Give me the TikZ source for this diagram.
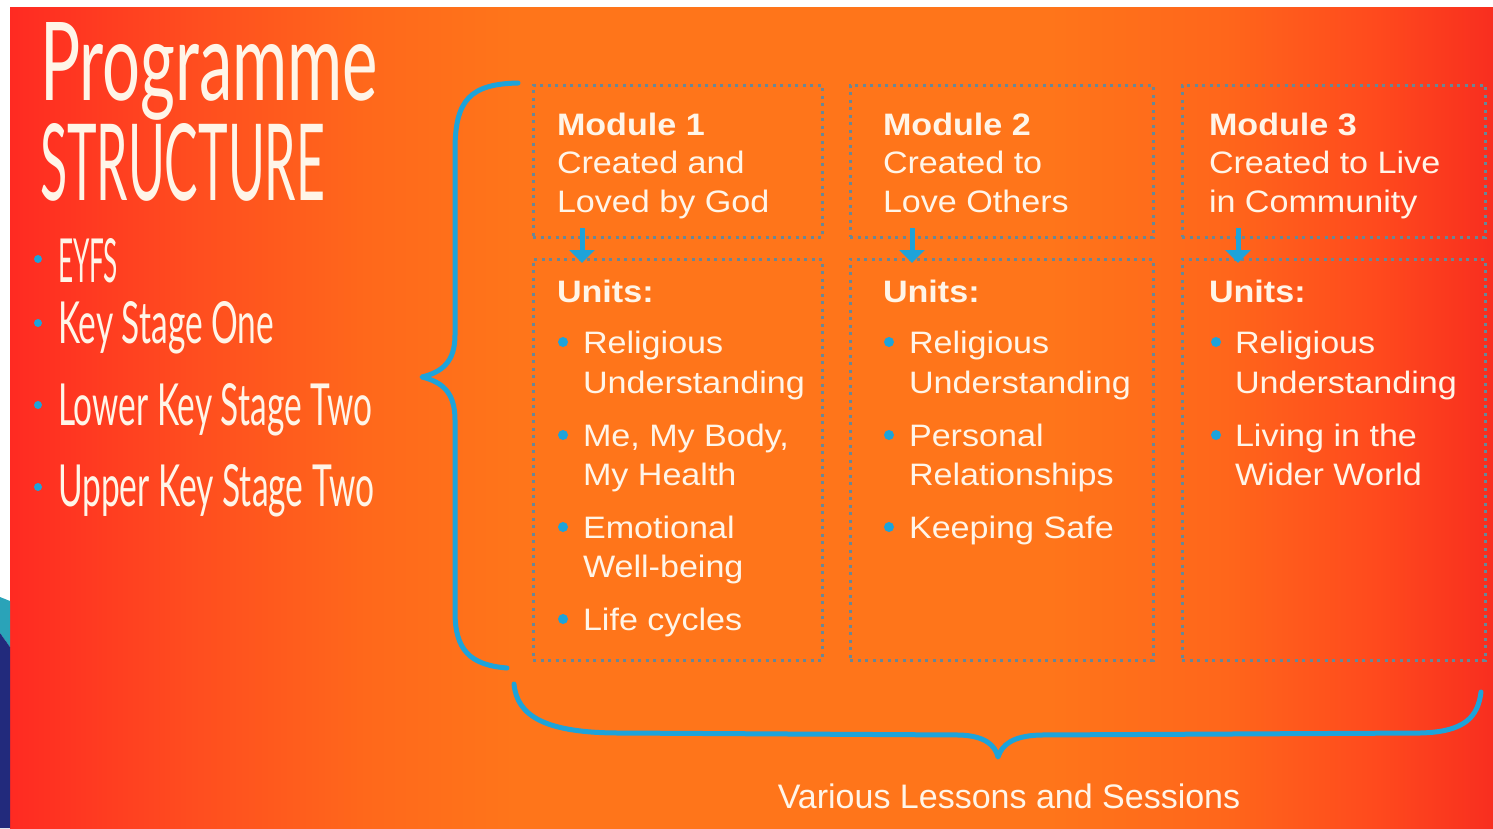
\documentclass[tikz,border=0pt]{standalone}
\usepackage{fontspec}
\usepackage{graphicx}
\setmainfont{Liberation Sans}
\newfontfamily\bodyf[FakeStretch=1.1]{Liberation Sans}
\newfontfamily\varf{Liberation Sans}
\newfontfamily\hand{Lato}
\usetikzlibrary{arrows.meta}
\definecolor{cream}{HTML}{FFF5E8}
\definecolor{bl}{HTML}{1DA3DA}
\definecolor{dotc}{RGB}{105,135,150}
\definecolor{teal1}{HTML}{2AA3B8}
\definecolor{navy}{HTML}{222A7C}
\definecolor{bg0}{HTML}{FF2A22}
\definecolor{bg1}{HTML}{FF4C1F}
\definecolor{bg2}{HTML}{FF681B}
\definecolor{bg3}{HTML}{FF751A}
\definecolor{bg4}{HTML}{FF661B}
\definecolor{bg5}{HTML}{FF4A1D}
\definecolor{bg6}{HTML}{F82E1F}
\pgfdeclarehorizontalshading{bgshade}{100bp}{color(0bp)=(bg0); color(25bp)=(bg0); color(31bp)=(bg1); color(37bp)=(bg2); color(42bp)=(bg3); color(60bp)=(bg3); color(66bp)=(bg4); color(71bp)=(bg5); color(75bp)=(bg6); color(100bp)=(bg6)}
\newcommand\tl[4]{\node[txt] (#1) at (#2,#3) {#4};}
\newcommand\tb[4]{\node[txt,font=\bodyf\bfseries\fontsize{31}{39}\selectfont] (#1) at (#2,#3) {#4};}
\begin{document}
\begin{tikzpicture}[x=1pt,y=-1pt,
  txt/.style={anchor=base west,inner sep=0pt,outer sep=0pt,text=cream,font=\bodyf\fontsize{31}{39}\selectfont},
  hd/.style={anchor=base west,inner sep=0pt,outer sep=0pt,text=cream,font=\hand},
  dbox/.style={draw=dotc,line width=3pt,dash pattern=on 3pt off 4.5pt,anchor=north west,inner sep=0pt,outer sep=0pt},
  arr/.style={draw=bl,line width=5pt,-{Triangle[width=25pt,length=13pt]}},
  brace/.style={draw=bl,line width=5pt,line cap=round,line join=round},
  dot/.style={fill=bl}]
\useasboundingbox (0,0) rectangle (1493,828);
\fill[white] (0,0) rectangle (1493,828);
\shade[shading=bgshade] (10,7) rectangle (1493,828);
\fill[teal1] (0,597) -- (10,601) -- (10,647) -- (0,633) -- cycle;
\fill[navy] (0,633) -- (10,647) -- (10,828) -- (0,828) -- cycle;

% title
\node[hd] (t1) at (40,100) {\resizebox{338pt}{78pt}{Programme}};
\node[hd] (t2) at (40,200) {\resizebox{285pt}{77pt}{STRUCTURE}};
\fill[dot] (38,259) circle (4);
\node[hd] (s1) at (58,282) {\resizebox{60pt}{44pt}{EYFS}};
\fill[dot] (38,323) circle (4);
\node[hd] (s2) at (58,343) {\resizebox{216pt}{42pt}{Key Stage One}};
\fill[dot] (38,405) circle (4);
\node[hd] (s3) at (58,425) {\resizebox{314pt}{42pt}{Lower Key Stage Two}};
\fill[dot] (38,487) circle (4);
\node[hd] (s4) at (58,506) {\resizebox{316pt}{42pt}{Upper Key Stage Two}};

% boxes
\node[dbox,minimum width=289pt,minimum height=152pt] (m1) at (533,85) {};
\node[dbox,minimum width=289pt,minimum height=401pt] (u1) at (533,259) {};
\node[dbox,minimum width=303pt,minimum height=152pt] (m2) at (850,85) {};
\node[dbox,minimum width=303pt,minimum height=401pt] (u2) at (850,259) {};
\node[dbox,minimum width=303pt,minimum height=152pt] (m3) at (1182,85) {};
\node[dbox,minimum width=303pt,minimum height=401pt] (u3) at (1182,259) {};

\draw[arr] ([shift={(49,-9)}]m1.south west) -- ([shift={(49,4)}]u1.north west);
\draw[arr] ([shift={(62,-9)}]m2.south west) -- ([shift={(62,4)}]u2.north west);
\draw[arr] ([shift={(56,-9)}]m3.south west) -- ([shift={(56,4)}]u3.north west);

% module 1
\tb{m1h}{557}{135}{Module 1}
\tl{m1a}{557}{173}{Created and}
\tl{m1b}{557}{212}{Loved by God}
\tb{u1h}{557}{302}{Units:}
\fill[dot] (563,342) circle (5);
\tl{u1a}{583}{353}{Religious}
\tl{u1b}{583}{393}{Understanding}
\fill[dot] (563,435) circle (5);
\tl{u1c}{583}{446}{Me, My Body,}
\tl{u1d}{583}{485}{My Health}
\fill[dot] (563,527) circle (5);
\tl{u1e}{583}{538}{Emotional}
\tl{u1f}{583}{577}{Well-being}
\fill[dot] (563,619) circle (5);
\tl{u1g}{583}{630}{Life cycles}

% module 2
\tb{m2h}{883}{135}{Module 2}
\tl{m2a}{883}{173}{Created to}
\tl{m2b}{883}{212}{Love Others}
\tb{u2h}{883}{302}{Units:}
\fill[dot] (889,342) circle (5);
\tl{u2a}{909}{353}{Religious}
\tl{u2b}{909}{393}{Understanding}
\fill[dot] (889,435) circle (5);
\tl{u2c}{909}{446}{Personal}
\tl{u2d}{909}{485}{Relationships}
\fill[dot] (889,527) circle (5);
\tl{u2e}{909}{538}{Keeping Safe}

% module 3
\tb{m3h}{1209}{135}{Module 3}
\tl{m3a}{1209}{173}{Created to Live}
\tl{m3b}{1209}{212}{in Community}
\tb{u3h}{1209}{302}{Units:}
\fill[dot] (1216,342) circle (5);
\tl{u3a}{1235}{353}{Religious}
\tl{u3b}{1235}{393}{Understanding}
\fill[dot] (1216,435) circle (5);
\tl{u3c}{1235}{446}{Living in the}
\tl{u3d}{1235}{485}{Wider World}

% braces
\draw[brace] (518,83) .. controls (470,84) and (455,100) .. (455,150) -- (455,335)
  .. controls (455,362) and (442,372) .. (422,377)
  .. controls (442,382) and (455,392) .. (455,420) -- (455,612)
  .. controls (455,650) and (470,665) .. (507,668);
\draw[brace] (514,684) .. controls (517,716) and (545,733) .. (620,733) -- (960,735)
  .. controls (985,736) and (995,745) .. (998,757)
  .. controls (1002,745) and (1012,736) .. (1040,735) -- (1420,733)
  .. controls (1466,732) and (1478,716) .. (1481,692);

\node[anchor=base,inner sep=0pt,text=cream,font=\varf\fontsize{34}{40}\selectfont] (foot) at (1009,808) {Various Lessons and Sessions};
\end{tikzpicture}
\end{document}
